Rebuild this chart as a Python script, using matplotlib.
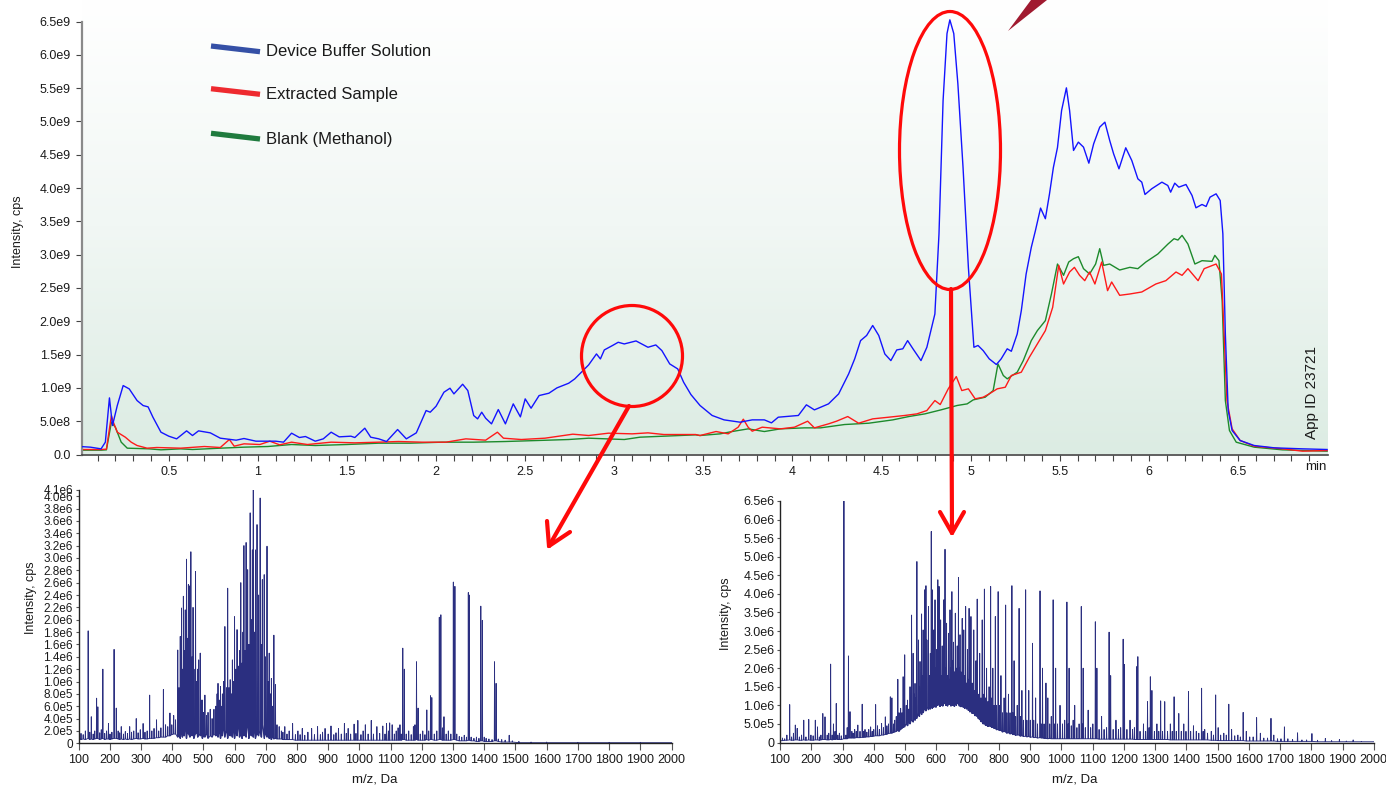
import numpy as np
import matplotlib
matplotlib.use("Agg")
import matplotlib.pyplot as plt
from matplotlib.transforms import Affine2D
from matplotlib.patches import Ellipse, Polygon
from matplotlib.lines import Line2D
from matplotlib.colors import LinearSegmentedColormap

plt.rcParams['font.family'] = ['Liberation Sans', 'DejaVu Sans']

# ---------------- DATA ----------------
series_names = ["Device Buffer Solution", "Extracted Sample", "Blank (Methanol)"]

# TIC traces: time (min) and intensity (x1e9 cps)
blue_t = [0.0, 0.06, 0.12, 0.144, 0.167, 0.184, 0.211, 0.244, 0.278, 0.322, 0.356, 0.384, 0.411, 0.456, 0.5,
          0.544, 0.6, 0.633, 0.667, 0.733, 0.789, 0.878, 0.922, 0.989, 1.1, 1.144, 1.189, 1.233, 1.267, 1.322,
          1.367, 1.411, 1.456, 1.522, 1.544, 1.6, 1.633, 1.678, 1.722, 1.784, 1.833, 1.889, 1.944, 1.967, 2.0,
          2.044, 2.078, 2.1, 2.149, 2.178, 2.211, 2.233, 2.256, 2.278, 2.311, 2.349, 2.389, 2.433, 2.473, 2.5,
          2.533, 2.578, 2.633, 2.678, 2.744, 2.778, 2.856, 2.9, 2.922, 2.944, 2.989, 3.022, 3.056, 3.122, 3.189,
          3.233, 3.267, 3.311, 3.356, 3.389, 3.43, 3.481, 3.549, 3.616, 3.706, 3.774, 3.842, 3.882, 3.92, 4.033,
          4.078, 4.123, 4.202, 4.259, 4.315, 4.349, 4.382, 4.416, 4.45, 4.484, 4.518, 4.552, 4.585, 4.619, 4.646,
          4.676, 4.721, 4.754, 4.799, 4.822, 4.845, 4.867, 4.883, 4.905, 4.928, 4.957, 4.987, 5.018, 5.041, 5.07,
          5.104, 5.144, 5.171, 5.205, 5.228, 5.261, 5.284, 5.311, 5.34, 5.363, 5.392, 5.419, 5.442, 5.464, 5.487,
          5.51, 5.537, 5.555, 5.577, 5.604, 5.633, 5.663, 5.69, 5.724, 5.753, 5.78, 5.802, 5.832, 5.87, 5.904,
          5.938, 5.96, 5.978, 6.016, 6.073, 6.106, 6.122, 6.145, 6.168, 6.208, 6.242, 6.264, 6.298, 6.321, 6.343,
          6.377, 6.4, 6.415, 6.429, 6.445, 6.467, 6.512, 6.591, 6.704, 6.862, 7.0]
blue_v = [0.12, 0.11, 0.085, 0.185, 0.85, 0.435, 0.735, 1.035, 0.985, 0.81, 0.735, 0.715, 0.56, 0.335, 0.275,
          0.235, 0.355, 0.285, 0.355, 0.325, 0.245, 0.215, 0.24, 0.2, 0.2, 0.185, 0.32, 0.255, 0.27, 0.2,
          0.235, 0.335, 0.265, 0.275, 0.255, 0.395, 0.26, 0.235, 0.195, 0.375, 0.235, 0.325, 0.66, 0.635, 0.725,
          0.935, 0.995, 0.91, 1.055, 0.96, 0.585, 0.535, 0.635, 0.545, 0.46, 0.675, 0.46, 0.76, 0.565, 0.835,
          0.695, 0.885, 0.92, 1.0, 1.07, 1.135, 1.345, 1.51, 1.435, 1.57, 1.635, 1.685, 1.66, 1.705, 1.61,
          1.645, 1.56, 1.36, 1.285, 1.085, 0.9, 0.736, 0.586, 0.52, 0.485, 0.52, 0.52, 0.475, 0.56, 0.586,
          0.746, 0.67, 0.76, 0.91, 1.21, 1.436, 1.71, 1.787, 1.937, 1.787, 1.51, 1.41, 1.57, 1.587, 1.71,
          1.587, 1.41, 1.61, 2.11, 3.31, 5.315, 6.32, 6.526, 6.32, 5.566, 4.31, 2.81, 1.61, 1.637, 1.56,
          1.436, 1.351, 1.436, 1.587, 1.55, 1.81, 2.16, 2.71, 3.11, 3.36, 3.70, 3.54, 3.91, 4.31, 4.61,
          5.165, 5.505, 5.165, 4.565, 4.69, 4.615, 4.374, 4.665, 4.915, 4.99, 4.715, 4.514, 4.289, 4.605, 4.414,
          4.139, 4.089, 3.904, 3.99, 4.089, 4.039, 3.939, 4.074, 4.014, 4.054, 3.889, 3.704, 3.754, 3.724, 3.864,
          3.914, 3.814, 3.313, 1.81, 0.66, 0.36, 0.21, 0.135, 0.1, 0.085, 0.075]

red_t = [0.0, 0.12, 0.15, 0.178, 0.189, 0.211, 0.256, 0.289, 0.322, 0.378, 0.433, 0.567, 0.7, 0.789, 0.84,
         0.867, 0.922, 1.011, 1.067, 1.122, 1.189, 1.278, 1.411, 1.544, 1.678, 1.789, 1.922, 2.056, 2.167,
         2.278, 2.344, 2.378, 2.478, 2.611, 2.767, 2.856, 2.967, 3.1, 3.189, 3.278, 3.456, 3.481, 3.571, 3.639,
         3.695, 3.724, 3.751, 3.774, 3.83, 3.932, 4.011, 4.085, 4.123, 4.202, 4.247, 4.31, 4.371, 4.45, 4.54,
         4.63, 4.698, 4.754, 4.799, 4.829, 4.874, 4.919, 4.95, 4.987, 5.025, 5.07, 5.104, 5.149, 5.194, 5.228,
         5.284, 5.329, 5.374, 5.419, 5.46, 5.494, 5.521, 5.555, 5.582, 5.611, 5.64, 5.667, 5.697, 5.735, 5.768,
         5.791, 5.836, 5.893, 5.96, 6.039, 6.095, 6.152, 6.186, 6.219, 6.276, 6.31, 6.377, 6.407, 6.422, 6.438,
         6.467, 6.512, 6.591, 6.749, 6.862, 7.0]
red_v = [0.075, 0.075, 0.08, 0.585, 0.485, 0.335, 0.26, 0.185, 0.135, 0.095, 0.105, 0.095, 0.12, 0.105, 0.225,
         0.125, 0.16, 0.15, 0.2, 0.145, 0.185, 0.15, 0.185, 0.175, 0.185, 0.195, 0.185, 0.185, 0.235,
         0.215, 0.335, 0.245, 0.225, 0.245, 0.305, 0.285, 0.32, 0.31, 0.325, 0.3, 0.3, 0.285, 0.345, 0.31,
         0.41, 0.53, 0.41, 0.35, 0.41, 0.385, 0.41, 0.5, 0.4, 0.46, 0.5, 0.57, 0.47, 0.535, 0.56,
         0.586, 0.61, 0.66, 0.81, 0.75, 0.986, 1.17, 0.96, 0.986, 0.836, 0.86, 0.91, 0.986, 1.01, 1.186,
         1.236, 1.46, 1.66, 1.86, 2.21, 2.84, 2.56, 2.74, 2.81, 2.69, 2.61, 2.74, 2.56, 2.89, 2.46,
         2.59, 2.39, 2.41, 2.44, 2.56, 2.61, 2.74, 2.69, 2.79, 2.61, 2.79, 2.86, 2.71, 1.81, 0.81,
         0.385, 0.21, 0.125, 0.085, 0.05, 0.06]

green_t = [0.0, 0.12, 0.15, 0.178, 0.2, 0.233, 0.267, 0.389, 0.456, 0.567, 0.633, 0.789, 0.922, 1.056, 1.189,
           1.322, 1.5, 1.678, 1.856, 2.033, 2.211, 2.389, 2.567, 2.744, 2.856, 3.056, 3.144, 3.278, 3.456, 3.481,
           3.594, 3.661, 3.751, 3.842, 3.932, 4.067, 4.157, 4.292, 4.428, 4.563, 4.653, 4.743, 4.833, 4.924,
           4.98, 5.014, 5.081, 5.126, 5.153, 5.183, 5.205, 5.261, 5.295, 5.34, 5.374, 5.419, 5.453, 5.487, 5.521,
           5.55, 5.577, 5.604, 5.633, 5.667, 5.701, 5.724, 5.746, 5.78, 5.836, 5.893, 5.938, 5.983, 6.05, 6.107,
           6.141, 6.163, 6.186, 6.219, 6.258, 6.298, 6.354, 6.37, 6.393, 6.411, 6.429, 6.452, 6.49, 6.591, 6.749,
           7.0]
green_v = [0.065, 0.065, 0.07, 0.485, 0.41, 0.185, 0.095, 0.085, 0.07, 0.085, 0.075, 0.095, 0.11, 0.12, 0.15,
           0.135, 0.15, 0.17, 0.17, 0.185, 0.185, 0.195, 0.21, 0.225, 0.245, 0.225, 0.26, 0.275, 0.295, 0.285,
           0.31, 0.345, 0.385, 0.345, 0.385, 0.4, 0.4, 0.45, 0.47, 0.52, 0.57, 0.61, 0.67, 0.736,
           0.76, 0.82, 0.86, 0.96, 1.36, 1.186, 1.136, 1.236, 1.41, 1.71, 1.86, 2.01, 2.41, 2.86, 2.69,
           2.89, 2.94, 2.97, 2.79, 2.71, 2.86, 3.09, 2.84, 2.86, 2.77, 2.81, 2.79, 2.89, 3.01, 3.16,
           3.24, 3.22, 3.29, 3.16, 2.86, 2.91, 2.9, 2.99, 2.91, 2.31, 0.81, 0.36, 0.185, 0.11, 0.07,
           0.05]

top_xticks = [0.5, 1, 1.5, 2, 2.5, 3, 3.5, 4, 4.5, 5, 5.5, 6, 6.5]
top_xtick_labels = ["0.5", "1", "1.5", "2", "2.5", "3", "3.5", "4", "4.5", "5", "5.5", "6", "6.5"]
top_yticks = [0, 0.5, 1.0, 1.5, 2.0, 2.5, 3.0, 3.5, 4.0, 4.5, 5.0, 5.5, 6.0, 6.5]
top_ytick_labels = ["0.0", "5.0e8", "1.0e9", "1.5e9", "2.0e9", "2.5e9", "3.0e9", "3.5e9", "4.0e9",
                    "4.5e9", "5.0e9", "5.5e9", "6.0e9", "6.5e9"]

# Mass spectrum at ~3.1 min: m/z, peak apex (x1e6 cps), local floor (x1e6 cps)
left_mz = [100, 108, 115, 122, 131, 136, 141, 147, 152, 158, 162, 168, 173, 178, 184, 190, 196, 201, 207, 214,
           221, 227, 232, 237, 244, 250, 257, 264, 270, 277, 285, 291, 298, 307, 313, 320, 328, 335, 342, 350,
           357, 364, 372, 379, 386, 393, 399, 405, 411, 418, 422, 426, 430, 433, 436, 439, 442, 446, 449, 452,
           457, 460, 464, 467, 470, 475, 478, 482, 485, 490, 494, 497, 501, 505, 510, 515, 522, 528, 534, 540,
           544, 547, 551, 555, 558, 561, 565, 569, 574, 578, 582, 586, 590, 593, 597, 600, 604, 608, 613, 616,
           620, 624, 627, 630, 634, 637, 642, 646, 650, 654, 657, 660, 664, 667, 672, 677, 682, 686, 689, 695,
           699, 704, 708, 711, 715, 718, 722, 726, 731, 736, 743, 750, 755, 761, 768, 775, 786, 795, 803, 810,
           817, 825, 835, 847, 856, 866, 875, 882, 890, 900, 909, 918, 925, 933, 942, 952, 958, 964, 972, 983,
           989, 995, 1005, 1012, 1019, 1028, 1038, 1045, 1056, 1065, 1075, 1082, 1087, 1093, 1097, 1105, 1112,
           1118, 1124, 1130, 1134, 1139, 1144, 1150, 1158, 1166, 1173, 1178, 1183, 1188, 1195, 1203, 1210, 1216,
           1222, 1228, 1232, 1240, 1248, 1256, 1261, 1266, 1271, 1278, 1285, 1293, 1301, 1306, 1312, 1320, 1328,
           1336, 1343, 1349, 1352, 1358, 1367, 1375, 1383, 1389, 1394, 1400, 1406, 1415, 1425, 1433, 1438, 1445,
           1456, 1467, 1480, 1490, 1511, 1550, 1600, 1700, 1800, 1900, 2000]
left_peak = [0.10, 0.16, 0.14, 0.2, 1.82, 0.18, 0.43, 0.15, 0.2, 0.73, 0.59, 0.17, 0.22, 1.2, 0.16, 0.2, 0.32,
             0.15, 0.18, 1.52, 0.57, 0.2, 0.17, 0.27, 0.15, 0.19, 0.16, 0.27, 0.18, 0.2, 0.4, 0.17, 0.22, 0.32,
             0.18, 0.2, 0.78, 0.2, 0.24, 0.38, 0.2, 0.25, 0.87, 0.3, 0.27, 0.49, 0.3, 0.45, 0.38, 1.51, 0.9,
             1.73, 2.19, 1.2, 2.38, 1.5, 2.16, 2.98, 1.7, 2.57, 2.55, 3.1, 1.4, 2.2, 1.2, 2.78, 1.0, 1.2, 1.35,
             1.46, 0.7, 0.7, 0.5, 0.78, 0.45, 0.5, 0.55, 0.4, 0.55, 0.6, 0.8, 0.97, 0.7, 0.92, 0.6, 0.8, 1.0,
             1.89, 0.9, 2.51, 0.9, 1.03, 0.8, 1.35, 1.0, 2.05, 1.2, 1.84, 1.25, 1.5, 2.6, 1.3, 1.8, 3.2, 1.5,
             3.25, 2.81, 1.6, 3.73, 2.0, 3.13, 4.1, 1.8, 3.13, 3.54, 2.4, 3.97, 1.6, 2.65, 2.73, 1.4, 3.19, 1.0,
             1.46, 0.8, 1.05, 0.6, 1.75, 0.95, 0.3, 0.27, 0.2, 0.18, 0.27, 0.15, 0.2, 0.32, 0.14, 0.2, 0.14,
             0.24, 0.13, 0.18, 0.24, 0.14, 0.27, 0.14, 0.18, 0.24, 0.15, 0.28, 0.14, 0.17, 0.24, 0.15, 0.32, 0.16,
             0.24, 0.15, 0.31, 0.16, 0.37, 0.14, 0.2, 0.3, 0.15, 0.37, 0.15, 0.27, 0.16, 0.28, 0.15, 0.32, 0.2,
             0.33, 0.3, 0.15, 0.2, 0.25, 0.3, 0.15, 1.54, 1.2, 0.15, 0.2, 0.14, 0.27, 0.3, 1.32, 0.57, 0.15, 0.2,
             0.14, 0.54, 0.2, 0.77, 0.74, 0.15, 0.2, 2.04, 2.08, 0.25, 0.43, 0.15, 0.2, 0.15, 2.61, 2.54, 0.15,
             0.11, 0.1, 0.13, 0.1, 2.44, 2.4, 0.1, 0.08, 0.1, 0.08, 2.22, 1.99, 0.1, 0.08, 0.07, 0.06, 1.32, 0.97,
             0.07, 0.06, 0.05, 0.13, 0.04, 0.03, 0.02, 0.02, 0.015, 0.015, 0.015, 0.01]
left_floor = [0.10, 0.06, 0.07, 0.06, 0.08, 0.06, 0.07, 0.06, 0.07, 0.08, 0.08, 0.06, 0.07, 0.08, 0.06, 0.07, 0.07, 0.06, 0.07, 0.08,
              0.08, 0.07, 0.06, 0.07, 0.06, 0.07, 0.06, 0.07, 0.06, 0.07, 0.08, 0.07, 0.07, 0.08, 0.07, 0.07, 0.08, 0.08, 0.08, 0.09,
              0.09, 0.1, 0.1, 0.1, 0.12, 0.12, 0.14, 0.15, 0.15, 0.1, 0.15, 0.08, 0.2, 0.1, 0.25, 0.12, 0.3, 0.08, 0.2, 0.15,
              0.1, 0.25, 0.12, 0.2, 0.08, 0.15, 0.2, 0.1, 0.15, 0.12, 0.15, 0.08, 0.12, 0.1, 0.15, 0.08, 0.12, 0.1, 0.15, 0.12,
              0.15, 0.1, 0.2, 0.08, 0.15, 0.12, 0.25, 0.1, 0.2, 0.08, 0.3, 0.12, 0.15, 0.1, 0.25, 0.08, 0.2, 0.12, 0.3, 0.1,
              0.15, 0.08, 0.25, 0.12, 0.2, 0.1, 0.3, 0.08, 0.15, 0.12, 0.2, 0.1, 0.25, 0.08, 0.15, 0.12, 0.2, 0.1, 0.3, 0.08,
              0.15, 0.1, 0.12, 0.08, 0.1, 0.06, 0.1, 0.07, 0.08, 0.07, 0.07, 0.07, 0.06, 0.06, 0.06, 0.06, 0.06, 0.05, 0.05, 0.05,
              0.05, 0.05, 0.05, 0.05, 0.05, 0.05, 0.05, 0.05, 0.05, 0.05, 0.05, 0.05, 0.05, 0.05, 0.05, 0.05, 0.05, 0.05, 0.05, 0.05,
              0.05, 0.05, 0.05, 0.05, 0.05, 0.05, 0.05, 0.05, 0.05, 0.05, 0.05, 0.05, 0.05, 0.05, 0.05, 0.05, 0.05,
              0.05, 0.05, 0.05, 0.05, 0.06, 0.06, 0.05, 0.05, 0.05, 0.05, 0.05, 0.06, 0.05, 0.05, 0.05, 0.05, 0.06,
              0.05, 0.06, 0.06, 0.05, 0.05, 0.06, 0.06, 0.05, 0.05, 0.05, 0.05, 0.05, 0.06, 0.06, 0.05, 0.04, 0.04,
              0.04, 0.04, 0.05, 0.05, 0.04, 0.04, 0.03, 0.03, 0.04, 0.04, 0.03, 0.03, 0.03, 0.03, 0.04, 0.04, 0.03,
              0.02, 0.02, 0.02, 0.02, 0.01, 0.01, 0.01, 0.01, 0.01, 0.01, 0.01]

# Mass spectrum at ~4.9 min
right_mz = [100, 108, 115, 122, 131, 137, 143, 149, 155, 162, 169, 176, 183, 192, 199, 206, 213, 220, 226, 231,
            237, 244, 251, 256, 262, 267, 271, 276, 280, 285, 290, 296, 304.5, 311, 315, 319, 324, 330, 334, 339,
            344, 349, 356, 363, 368, 372, 378, 384, 390, 395, 400, 406, 412, 418, 425, 431, 437, 442, 447, 453,
            458, 463, 467, 472, 477, 481, 486, 490, 494, 499, 504, 508, 512, 516, 521, 526, 529, 532, 535, 538,
            543, 546, 548, 553, 556, 558, 563, 567, 570, 575, 579, 581, 584, 587, 590, 592, 596, 599, 601, 605,
            609, 612, 614, 617, 619, 621, 624, 628, 631, 633, 636, 639, 641, 644, 647, 650, 653, 655, 658, 661,
            664, 667, 671, 674, 676, 679, 683, 686, 688, 691, 694, 697, 700, 703, 705, 708, 711, 715, 720, 724,
            727, 731, 735, 739, 743, 747, 750, 754, 758, 761, 765, 769, 774, 778, 781, 785, 789, 793, 798, 802,
            807, 812, 817, 822, 826, 831, 836, 842, 845, 849, 854, 859, 865, 869, 874, 879, 886, 890, 896, 901,
            908, 912, 918, 924, 932, 936, 940, 945, 951, 957, 963, 968, 974, 978, 982, 988, 996, 1004, 1011,
            1018, 1022, 1025, 1032, 1038, 1043, 1050, 1057, 1064, 1067, 1070, 1077, 1086, 1094, 1101, 1109, 1112,
            1114, 1121, 1129, 1137, 1145, 1153, 1156, 1158, 1166, 1175, 1183, 1190, 1198, 1202, 1210, 1220, 1228,
            1234, 1241, 1245, 1252, 1263, 1270, 1276, 1281, 1285, 1290, 1298, 1306, 1312, 1318, 1324, 1331, 1340,
            1349, 1355, 1361, 1368, 1376, 1384, 1392, 1399, 1407, 1414, 1423, 1432, 1440, 1449, 1454, 1459, 1468,
            1480, 1487, 1494, 1502, 1510, 1520, 1528, 1536, 1545, 1555, 1565, 1573, 1582, 1592, 1603, 1614, 1625,
            1637, 1648, 1660, 1671, 1680, 1692, 1703, 1714, 1725, 1740, 1756, 1770, 1785, 1802, 1820, 1845, 1865,
            1890, 1912, 1934, 1960, 2000]
right_peak = [0.05, 0.12, 0.1, 0.2, 1.02, 0.15, 0.25, 0.47, 0.38, 0.15, 0.2, 0.6, 0.15, 0.62, 0.2, 0.18, 0.6,
              0.42, 0.15, 0.2, 0.78, 0.69, 0.2, 0.25, 2.11, 0.2, 0.5, 0.3, 1.05, 0.2, 0.25, 0.18, 6.5, 0.2, 0.4,
              2.33, 0.83, 0.3, 0.25, 0.35, 0.3, 0.47, 0.3, 1.03, 0.3, 0.35, 0.28, 0.35, 0.42, 0.3, 0.35, 1.02,
              0.45, 0.35, 0.51, 0.4, 0.69, 0.45, 0.5, 1.23, 1.2, 0.5, 0.6, 0.7, 1.7, 0.8, 0.92, 0.8, 1.77, 2.36,
              1.0, 1.14, 0.9, 1.5, 3.43, 2.4, 1.3, 1.59, 1.2, 4.87, 2.76, 1.5, 2.18, 3.46, 1.8, 3.03, 4.11, 4.22,
              2.76, 3.66, 1.8, 2.4, 5.68, 4.11, 2.0, 3.03, 3.84, 2.0, 2.5, 4.38, 4.2, 2.2, 3.3, 1.8, 2.6, 1.9,
              3.84, 5.2, 2.0, 3.21, 1.8, 2.94, 1.7, 3.57, 2.0, 4.06, 2.2, 2.7, 1.9, 3.48, 2.0, 2.6, 4.44, 2.0,
              2.9, 1.9, 3.34, 1.7, 3.03, 1.8, 3.66, 1.6, 2.5, 1.7, 3.61, 1.6, 3.39, 1.6, 3.03, 1.4, 2.2, 3.86,
              1.3, 2.4, 1.2, 3.3, 1.3, 4.13, 1.2, 2.0, 1.1, 1.5, 4.2, 1.2, 2.0, 1.0, 3.39, 1.0, 4.06, 1.0, 1.8,
              0.8, 1.2, 3.7, 0.8, 1.3, 0.8, 4.22, 0.8, 2.2, 0.7, 1.0, 3.61, 0.7, 1.4, 0.6, 4.11, 0.6, 1.4, 0.6,
              2.67, 0.6, 1.2, 0.5, 4.08, 0.5, 2.0, 0.5, 1.6, 1.2, 0.5, 0.7, 3.84, 0.5, 2.0, 0.5, 1.0, 0.5, 0.6,
              3.78, 0.5, 2.0, 0.45, 0.6, 1.0, 0.4, 0.5, 3.66, 0.5, 2.0, 0.4, 0.87, 0.4, 0.5, 3.25, 0.4, 2.0,
              0.35, 0.7, 0.35, 0.4, 2.97, 0.4, 1.8, 0.35, 0.6, 0.35, 0.4, 2.78, 2.1, 0.35, 0.6, 0.35, 0.4, 2.04,
              2.31, 0.3, 0.5, 0.3, 1.1, 0.4, 1.77, 1.4, 0.3, 0.5, 0.3, 1.12, 0.3, 1.1, 0.3, 0.5, 0.3, 1.23, 0.3,
              0.78, 0.3, 0.5, 0.3, 1.37, 0.3, 0.45, 0.3, 0.25, 1.46, 0.3, 0.35, 0.25, 0.3, 0.2, 1.28, 0.4, 0.2,
              0.25, 0.2, 1.03, 0.35, 0.18, 0.2, 0.15, 0.81, 0.3, 0.15, 0.15, 0.67, 0.25, 0.12, 0.12, 0.65, 0.2,
              0.1, 0.1, 0.42, 0.1, 0.08, 0.26, 0.07, 0.07, 0.24, 0.06, 0.11, 0.05, 0.08, 0.04, 0.07, 0.03, 0.02]
right_floor = [0.05, 0.05, 0.06, 0.06, 0.07, 0.06, 0.06, 0.07, 0.07, 0.06, 0.06, 0.07, 0.06, 0.07, 0.06, 0.06, 0.07, 0.07, 0.06, 0.07,
               0.08, 0.08, 0.07, 0.07, 0.08, 0.07, 0.08, 0.08, 0.09, 0.08, 0.08, 0.08, 0.1, 0.1, 0.1, 0.12, 0.12, 0.12, 0.12, 0.12,
               0.13, 0.13, 0.13, 0.14, 0.14, 0.14, 0.15, 0.15, 0.16, 0.16, 0.17, 0.18, 0.18, 0.18, 0.2, 0.2, 0.22, 0.22, 0.24, 0.25,
               0.25, 0.27, 0.28, 0.3, 0.32, 0.3, 0.35, 0.38, 0.4, 0.42, 0.5, 0.45, 0.55, 0.5, 0.6, 0.55, 0.68, 0.6, 0.72, 0.65,
               0.78, 0.7, 0.82, 0.75, 0.87, 0.8, 0.9, 0.85, 0.94, 0.88, 0.98, 0.9, 1.0, 0.92, 1.0, 0.95, 1.02, 0.95, 1.02, 1.0,
               1.03, 0.97, 1.03, 1.0, 1.04, 0.98, 1.04, 1.05, 1.0, 1.05, 0.98, 1.05, 1.02, 1.05, 0.98, 1.05, 1.0, 1.05, 0.97, 1.05,
               1.0, 1.05, 1.04, 0.98, 1.03, 0.96, 1.0, 0.95, 0.98, 0.92, 0.96, 0.9, 0.92, 0.86, 0.88, 0.82, 0.84, 0.78, 0.78, 0.72,
               0.72, 0.7, 0.64, 0.62, 0.56, 0.55, 0.5, 0.5, 0.46, 0.46, 0.43, 0.44, 0.43, 0.4, 0.41, 0.38, 0.38, 0.34, 0.35, 0.32,
               0.32, 0.28, 0.3, 0.28, 0.25, 0.26, 0.23, 0.24, 0.21, 0.22, 0.19, 0.2, 0.2, 0.17, 0.18, 0.16, 0.17, 0.15, 0.16, 0.14,
               0.15, 0.13, 0.14, 0.12, 0.13, 0.12, 0.12, 0.11, 0.11, 0.1, 0.11, 0.1, 0.1, 0.1, 0.1, 0.1, 0.1, 0.1, 0.1,
               0.1, 0.1, 0.1, 0.1, 0.1, 0.1, 0.1, 0.1, 0.1, 0.1, 0.1, 0.1, 0.1, 0.1, 0.1, 0.1, 0.1,
               0.1, 0.09, 0.09, 0.09, 0.09, 0.09, 0.09, 0.09, 0.09, 0.09, 0.09, 0.09, 0.09, 0.09, 0.09, 0.09, 0.09,
               0.08, 0.08, 0.08, 0.08, 0.08, 0.08, 0.08, 0.08, 0.08, 0.08, 0.08, 0.08, 0.08, 0.08, 0.08, 0.08, 0.08,
               0.07, 0.07, 0.07, 0.07, 0.07, 0.07, 0.07, 0.07, 0.07, 0.07, 0.07, 0.07, 0.07, 0.07, 0.07, 0.07, 0.07,
               0.06, 0.06, 0.06, 0.05, 0.05, 0.05, 0.05, 0.05, 0.05, 0.05, 0.05, 0.05, 0.05, 0.04, 0.04, 0.04, 0.04,
               0.04, 0.04, 0.04, 0.04, 0.04, 0.03, 0.03, 0.03, 0.03, 0.03, 0.03, 0.03, 0.03, 0.03, 0.02, 0.02, 0.02,
               0.02, 0.02, 0.02, 0.02, 0.02]

ms_xticks = [100, 200, 300, 400, 500, 600, 700, 800, 900, 1000, 1100, 1200, 1300, 1400, 1500, 1600, 1700,
             1800, 1900, 2000]
ms_xtick_labels = ["100", "200", "300", "400", "500", "600", "700", "800", "900", "1000", "1100", "1200",
                   "1300", "1400", "1500", "1600", "1700", "1800", "1900", "2000"]
left_yticks = [0, 0.2, 0.4, 0.6, 0.8, 1.0, 1.2, 1.4, 1.6, 1.8, 2.0, 2.2, 2.4, 2.6, 2.8, 3.0, 3.2, 3.4, 3.6,
               3.8, 4.0, 4.1]
left_ytick_labels = ["0", "2.0e5", "4.0e5", "6.0e5", "8.0e5", "1.0e6", "1.2e6", "1.4e6", "1.6e6", "1.8e6",
                     "2.0e6", "2.2e6", "2.4e6", "2.6e6", "2.8e6", "3.0e6", "3.2e6", "3.4e6", "3.6e6", "3.8e6",
                     "4.0e6", "4.1e6"]
right_yticks = [0, 0.5, 1.0, 1.5, 2.0, 2.5, 3.0, 3.5, 4.0, 4.5, 5.0, 5.5, 6.0, 6.5]
right_ytick_labels = ["0", "5.0e5", "1.0e6", "1.5e6", "2.0e6", "2.5e6", "3.0e6", "3.5e6", "4.0e6", "4.5e6",
                      "5.0e6", "5.5e6", "6.0e6", "6.5e6"]

# ---------------- STYLE ----------------
W, H = 1386, 787
C_BLUE, C_RED, C_GREEN = "#1414ff", "#ff1a1a", "#1d8a2c"
LEG_COLORS = ["#3550a6", "#ee2a2f", "#1f7b3e"]
C_MS = "#2b2f80"
TXT = "#1a1a1a"

fig = plt.figure(figsize=(W / 100, H / 100), dpi=100)
pix = Affine2D().scale(1 / W, -1 / H).translate(0, 1) + fig.transFigure


def rect(l, t, r, b):
    return [l / W, 1 - b / H, (r - l) / W, (b - t) / H]


# ---------------- TOP: TIC ----------------
ax = fig.add_axes(rect(82, 0, 1328, 454.5))
xl, yl = (0.013, 7.005), (0, 6.824)
grad = np.linspace(0, 1, 256).reshape(-1, 1)
cm = LinearSegmentedColormap.from_list("bg", ["#ffffff", "#f1f7f4", "#dcece3"])
ax.imshow(grad, extent=[xl[0], xl[1], yl[0], yl[1]], origin="upper", aspect="auto", cmap=cm, zorder=0)
ax.plot(blue_t, blue_v, color=C_BLUE, lw=1.0, zorder=3)
ax.plot(green_t, green_v, color=C_GREEN, lw=1.0, zorder=2)
ax.plot(red_t, red_v, color=C_RED, lw=1.0, zorder=2.5)
ax.set_xlim(*xl)
ax.set_ylim(*yl)
for s in ("top", "right"):
    ax.spines[s].set_visible(False)
ax.spines["left"].set_bounds(0, 6.5)
ax.spines["left"].set_color("#8a8a8a")
ax.spines["left"].set_linewidth(1.6)
ax.spines["bottom"].set_color("#444444")
ax.spines["bottom"].set_linewidth(1.2)
ax.set_xticks(top_xticks)
ax.set_xticklabels(top_xtick_labels)
ax.set_xticks(np.arange(0.1, 7.0, 0.1), minor=True)
ax.set_yticks(top_yticks)
ax.set_yticklabels(top_ytick_labels)
ax.tick_params(axis="x", which="both", direction="out", length=4, width=0.8, color="#444444",
               labelsize=9, pad=4, labelcolor=TXT)
ax.tick_params(axis="y", direction="out", length=4, width=0.8, color="#444444", labelsize=9, pad=4,
               labelcolor=TXT)
fig.text(1316 / W, 1 - 467 / H, "min", ha="center", va="center", fontsize=9.5, color=TXT)
fig.text(18 / W, 1 - 232 / H, "Intensity, cps", rotation=90, ha="center", va="center", fontsize=9, color=TXT)
fig.text(1312 / W, 1 - 392 / H, "App ID 23721", rotation=90, ha="center", va="center", fontsize=11, color=TXT)

# custom legend
leg_y = [(46, 51.7), (88.7, 94.3), (133.3, 139)]
for (y0, y1), c, name in zip(leg_y, LEG_COLORS, series_names):
    fig.add_artist(Line2D([211, 260], [y0, y1], transform=pix, color=c, lw=3.8, solid_capstyle="butt"))
    fig.text(266 / W, 1 - ((y0 + y1) / 2 + 3) / H, name, ha="left", va="center", fontsize=12, color=TXT)


# ---------------- BOTTOM: spectra ----------------
def profile(mz, peak, floor, hw=0.8):
    xs, ys = [], []
    for m, p, f in zip(mz, peak, floor):
        xs.extend([m - hw, m, m + hw])
        ys.extend([f, p, f])
    return xs, ys


def style_ms(a, yt, ylab, ysize):
    for s in ("top", "right"):
        a.spines[s].set_visible(False)
    for s in ("left", "bottom"):
        a.spines[s].set_color("#222222")
        a.spines[s].set_linewidth(1.0)
    a.set_xlim(100, 2000)
    a.set_xticks(ms_xticks)
    a.set_xticklabels(ms_xtick_labels)
    a.set_yticks(yt)
    a.set_yticklabels(ylab)
    a.tick_params(axis="x", direction="out", length=5, width=0.8, color="#555555", labelsize=9, pad=3,
                  labelcolor=TXT)
    a.tick_params(axis="y", direction="out", length=2.5, width=0.8, color="#555555", labelsize=ysize,
                  pad=1.5, labelcolor=TXT)


axl = fig.add_axes(rect(78.5, 490, 671.5, 743.3))
xs, ys = profile(left_mz, left_peak, left_floor)
axl.plot(xs, ys, color=C_MS, lw=0.65)
axl.set_ylim(0, 4.1)
style_ms(axl, left_yticks, left_ytick_labels, 8.5)

axr = fig.add_axes(rect(780, 501, 1373.8, 742.5))
xs, ys = profile(right_mz, right_peak, right_floor)
axr.plot(xs, ys, color=C_MS, lw=0.65)
axr.set_ylim(0, 6.5)
style_ms(axr, right_yticks, right_ytick_labels, 9)

fig.text(31 / W, 1 - 598 / H, "Intensity, cps", rotation=90, ha="center", va="center", fontsize=9, color=TXT)
fig.text(726 / W, 1 - 614 / H, "Intensity, cps", rotation=90, ha="center", va="center", fontsize=9, color=TXT)
fig.text(375 / W, 1 - 779 / H, "m/z, Da", ha="center", va="center", fontsize=9.5, color=TXT)
fig.text(1075 / W, 1 - 779 / H, "m/z, Da", ha="center", va="center", fontsize=9.5, color=TXT)

# ---------------- annotations ----------------
RED = "#ff0a0a"
fig.add_artist(Ellipse((632, 356), 101, 101, transform=pix, fill=False, ec=RED, lw=2.3, zorder=5))
fig.add_artist(Ellipse((950, 150.5), 101, 278, transform=pix, fill=False, ec=RED, lw=2.3, zorder=5))
arrow_segments = [([629, 549], [406, 546]), ([549, 547], [546, 521]), ([549, 570], [546, 532]),
                  ([951, 952], [289, 533]), ([952, 940], [533, 512]), ([952, 964], [533, 512])]
for xx, yy in arrow_segments:
    fig.add_artist(Line2D(xx, yy, transform=pix, color=RED, lw=3.0, solid_capstyle="round", zorder=6))
fig.add_artist(Polygon([(1008, 31), (1031, 0), (1047, 0)], closed=True, transform=pix,
                       fc="#a01a30", ec="none", zorder=5))

fig.savefig("out.png", dpi=100)
